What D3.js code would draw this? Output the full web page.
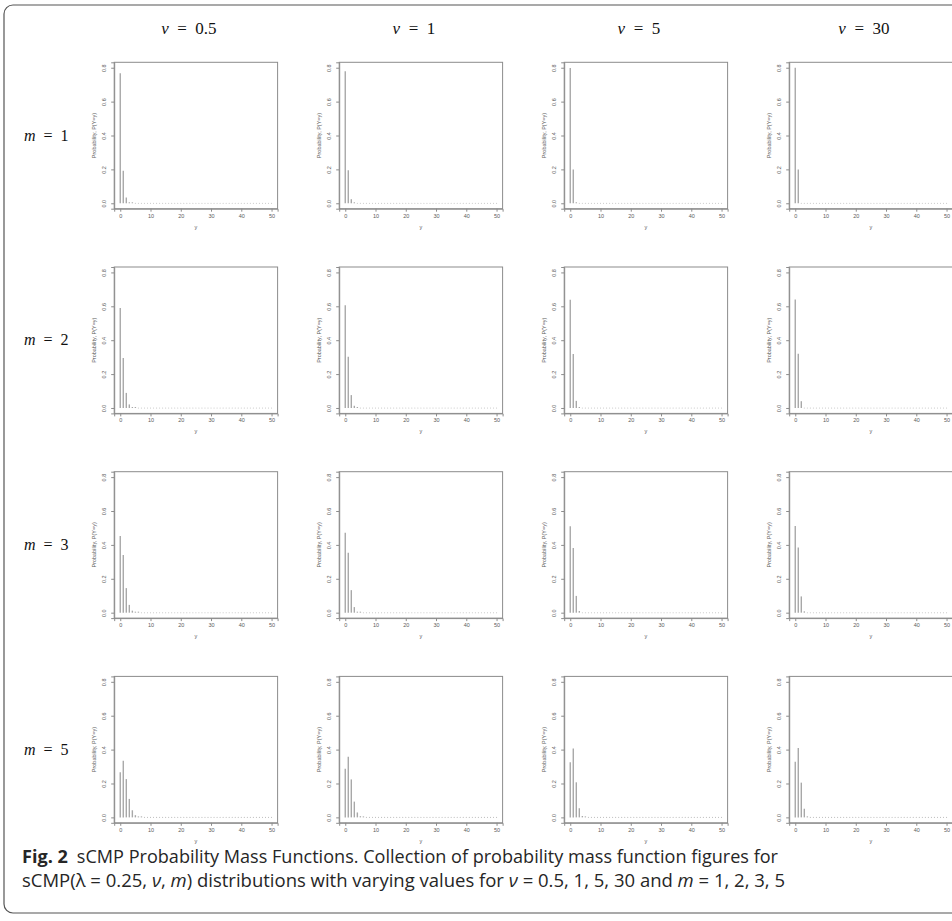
<!DOCTYPE html>
<html>
<head>
<meta charset="utf-8">
<script src="https://cdn.jsdelivr.net/npm/d3@7"></script>
<style>
  html, body { margin: 0; padding: 0; background: #fff; }
  svg { display: block; }
</style>
</head>
<body>
<svg id="fig" width="952" height="921"></svg>
<script>
// Grid labels
const nuLabels = ["0.5", "1", "5", "30"];
const mLabels = ["1", "2", "3", "5"];
const xTicks = [0, 10, 20, 30, 40, 50];
const yTicks = [0.0, 0.2, 0.4, 0.6, 0.8];
const yTickLabels = ["0.0", "0.2", "0.4", "0.6", "0.8"];

// Probability mass at y = 0, 1, 2, ... for each nu (0.5, 1, 5, 30); remaining support up to 50 is zero
const pmfM1 = [
  [0.768, 0.192, 0.034, 0.005, 0.001],
  [0.779, 0.195, 0.024, 0.002],
  [0.799, 0.200, 0.002],
  [0.800, 0.200]
];
const pmfM2 = [
  [0.590, 0.295, 0.089, 0.021, 0.004, 0.001],
  [0.607, 0.303, 0.076, 0.013, 0.002],
  [0.638, 0.319, 0.042, 0.001],
  [0.640, 0.320, 0.040]
];
const pmfM3 = [
  [0.453, 0.340, 0.145, 0.046, 0.012, 0.003, 0.001],
  [0.472, 0.354, 0.133, 0.033, 0.006, 0.001],
  [0.510, 0.382, 0.099, 0.010],
  [0.512, 0.384, 0.096, 0.008]
];
const pmfM5 = [
  [0.267, 0.334, 0.226, 0.109, 0.042, 0.013, 0.004, 0.001],
  [0.287, 0.358, 0.224, 0.093, 0.029, 0.007, 0.002],
  [0.325, 0.407, 0.207, 0.054, 0.008, 0.001],
  [0.328, 0.410, 0.205, 0.051, 0.006]
];
const pmfRows = [pmfM1, pmfM2, pmfM3, pmfM5];
const yMax = 50;

const svg = d3.select("#fig");

// Outer frame of the figure
svg.append("rect")
  .attr("x", 4).attr("y", 5)
  .attr("width", 980).attr("height", 908)
  .attr("rx", 9).attr("ry", 9)
  .attr("fill", "none")
  .attr("stroke", "#555").attr("stroke-width", 1.2);

// Panel geometry
const panelLeft0 = 114.2, panelTop0 = 62.3;
const colStep = 225, rowStep = 204.7;
const panelW = 163.4, panelH = 146.4;

const x = d3.scaleLinear().domain([-2, 52]).range([0, panelW]);
const y = d3.scaleLinear().domain([-0.032, 0.832]).range([panelH, 0]);

const tickFont = "'Liberation Sans', Arial, sans-serif";
const mathFont = "'Liberation Serif', 'DejaVu Serif', serif";
const boxColor = "#8c8c8c";
const textColor = "#5a5a5a";
const barColor = "#a8a8a8";

// Column headers (nu)
nuLabels.forEach((lab, c) => {
  const cx = panelLeft0 + c * colStep + panelW / 2 - 7;
  const t = svg.append("text")
    .attr("x", cx).attr("y", 34)
    .attr("text-anchor", "middle")
    .attr("font-family", mathFont)
    .attr("font-size", 17)
    .attr("fill", "#111");
  t.append("tspan").attr("font-style", "italic").text("ν");
  t.append("tspan").text("\u2002=\u2002" + lab);
});

// Row headers (m)
mLabels.forEach((lab, r) => {
  const cy = panelTop0 + r * rowStep + panelH / 2;
  const t = svg.append("text")
    .attr("x", 24).attr("y", cy + 5)
    .attr("font-family", mathFont)
    .attr("font-size", 16)
    .attr("fill", "#111");
  t.append("tspan").attr("font-style", "italic").text("m");
  t.append("tspan").text("\u2002=\u2002" + lab);
});

// Panels
pmfRows.forEach((row, r) => {
  row.forEach((head, c) => {
    const g = svg.append("g")
      .attr("transform", `translate(${panelLeft0 + c * colStep},${panelTop0 + r * rowStep})`);

    const values = d3.range(0, yMax + 1).map(k => ({ k, p: k < head.length ? head[k] : 0 }));

    // Stems for positive mass
    g.selectAll("line.stem")
      .data(values.filter(d => d.p > 0))
      .join("line")
      .attr("class", "stem")
      .attr("x1", d => x(d.k)).attr("x2", d => x(d.k))
      .attr("y1", y(0)).attr("y2", d => Math.min(y(d.p), y(0) - 1))
      .attr("stroke", barColor).attr("stroke-width", 1.4);

    // Zero-mass points drawn as dots along the baseline
    g.selectAll("circle.zero")
      .data(values.filter(d => d.p === 0))
      .join("circle")
      .attr("class", "zero")
      .attr("cx", d => x(d.k)).attr("cy", y(0))
      .attr("r", 0.55)
      .attr("fill", "#c0c0c0");

    // Plot box
    g.append("rect")
      .attr("x", 0).attr("y", 0)
      .attr("width", panelW).attr("height", panelH)
      .attr("fill", "none")
      .attr("stroke", boxColor).attr("stroke-width", 1);

    // X axis
    const xAxis = d3.axisBottom(x).tickValues(xTicks).tickSize(3).tickPadding(2).tickFormat(d3.format("d"));
    const gx = g.append("g").attr("transform", `translate(0,${panelH})`).call(xAxis);
    gx.select(".domain").attr("stroke", boxColor);
    gx.selectAll(".tick line").attr("stroke", boxColor);
    gx.selectAll(".tick text")
      .attr("font-family", tickFont).attr("font-size", 5.5).attr("fill", textColor);

    // Y axis with labels running along the axis
    const yAxis = d3.axisLeft(y).tickValues(yTicks).tickSize(3).tickFormat((d, i) => yTickLabels[i]);
    const gy = g.append("g").call(yAxis);
    gy.select(".domain").attr("stroke", boxColor);
    gy.selectAll(".tick line").attr("stroke", boxColor);
    gy.selectAll(".tick text")
      .attr("font-family", tickFont).attr("font-size", 5.5).attr("fill", textColor)
      .attr("x", null).attr("dy", null)
      .attr("text-anchor", "middle")
      .attr("transform", "translate(-8,0) rotate(-90)");

    // Axis titles
    g.append("text")
      .attr("x", x(25)).attr("y", panelH + 20)
      .attr("text-anchor", "middle")
      .attr("font-family", tickFont).attr("font-size", 5.5).attr("fill", textColor)
      .text("y");
    g.append("text")
      .attr("transform", `translate(-18,${panelH / 2}) rotate(-90)`)
      .attr("text-anchor", "middle")
      .attr("font-family", tickFont).attr("font-size", 5.5).attr("fill", textColor)
      .text("Probability, P(Y=y)");
  });
});

// Caption
const capFont = "'Open Sans', 'Noto Sans', sans-serif";
const cap1 = svg.append("text")
  .attr("x", 22).attr("y", 863)
  .attr("font-family", capFont).attr("font-size", 17.5).attr("fill", "#262626")
  .attr("textLength", 756).attr("lengthAdjust", "spacingAndGlyphs");
cap1.append("tspan").attr("font-weight", "bold").text("Fig. 2");
cap1.append("tspan").text("\u2002sCMP Probability Mass Functions. Collection of probability mass function figures for");

const cap2 = svg.append("text")
  .attr("x", 22).attr("y", 887)
  .attr("font-family", capFont).attr("font-size", 17.5).attr("fill", "#262626")
  .attr("textLength", 763).attr("lengthAdjust", "spacingAndGlyphs");
cap2.append("tspan").text("sCMP(λ = 0.25, ");
cap2.append("tspan").attr("font-style", "italic").text("ν");
cap2.append("tspan").text(", ");
cap2.append("tspan").attr("font-style", "italic").text("m");
cap2.append("tspan").text(") distributions with varying values for ");
cap2.append("tspan").attr("font-style", "italic").text("ν");
cap2.append("tspan").text(" = 0.5, 1, 5, 30 and ");
cap2.append("tspan").attr("font-style", "italic").text("m");
cap2.append("tspan").text(" = 1, 2, 3, 5");
</script>
</body>
</html>
